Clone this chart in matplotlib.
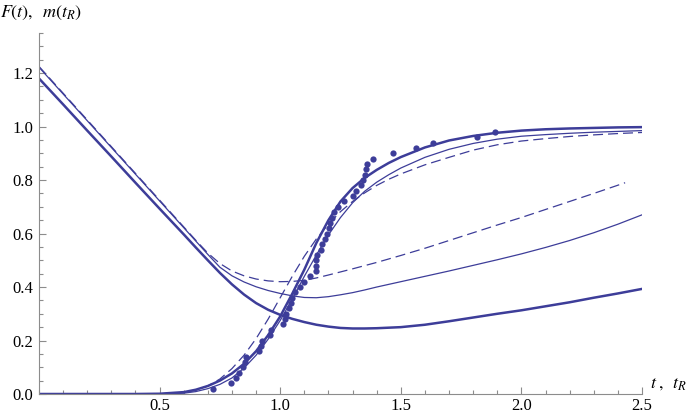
import numpy as np
import matplotlib.pyplot as plt
from matplotlib.ticker import MultipleLocator, FixedLocator

plt.rcParams['font.family'] = ['Liberation Serif', 'DejaVu Serif']
plt.rcParams['mathtext.fontset'] = 'stix'

blue = '#3d3d99'
grey = '#8c8c8c'

# decreasing curves F(t)
t_f = [0.0, 0.1, 0.2, 0.3, 0.4, 0.5, 0.6, 0.65, 0.7, 0.75, 0.8, 0.85, 0.9, 0.95,
       1.0, 1.05, 1.1, 1.15, 1.2, 1.25, 1.3, 1.35, 1.4, 1.45, 1.5, 1.6, 1.7, 1.8,
       1.9, 2.0, 2.1, 2.2, 2.3, 2.4, 2.5]
f_thick = [1.18, 1.083, 0.985, 0.888, 0.79, 0.693, 0.597, 0.548, 0.50, 0.453, 0.41,
           0.372, 0.34, 0.315, 0.296, 0.281, 0.269, 0.259, 0.252, 0.247, 0.245,
           0.245, 0.246, 0.248, 0.25, 0.259, 0.272, 0.286, 0.30, 0.313, 0.328,
           0.343, 0.36, 0.376, 0.393]
f_thin = [1.222, 1.122, 1.022, 0.922, 0.822, 0.722, 0.622, 0.572, 0.522, 0.474,
          0.442, 0.419, 0.401, 0.387, 0.376, 0.367, 0.361, 0.36, 0.364, 0.371,
          0.379, 0.389, 0.40, 0.41, 0.42, 0.44, 0.46, 0.481, 0.502, 0.524, 0.548,
          0.574, 0.603, 0.635, 0.67]
t_fd = [0.0, 0.1, 0.2, 0.3, 0.4, 0.5, 0.6, 0.65, 0.7, 0.75, 0.8, 0.85, 0.9, 0.95,
        1.0, 1.05, 1.1, 1.15, 1.2, 1.3, 1.4, 1.5, 1.6, 1.7, 1.8, 1.9, 2.0, 2.1,
        2.2, 2.3, 2.43]
f_dash = [1.225, 1.125, 1.025, 0.925, 0.825, 0.725, 0.625, 0.575, 0.527, 0.488,
          0.46, 0.442, 0.43, 0.423, 0.42, 0.421, 0.425, 0.434, 0.445, 0.468, 0.492,
          0.518, 0.545, 0.574, 0.603, 0.632, 0.66, 0.69, 0.72, 0.75, 0.79]

# rising curves m(t_R)
t_m = [0.0, 0.4, 0.5, 0.6, 0.65, 0.7, 0.75, 0.8, 0.85, 0.9, 0.95, 1.0, 1.05, 1.1,
       1.15, 1.2, 1.25, 1.3, 1.35, 1.4, 1.45, 1.5, 1.6, 1.7, 1.8, 1.9, 2.0, 2.1,
       2.2, 2.3, 2.4, 2.5]
m_thick = [0.0, 0.0, 0.001, 0.007, 0.016, 0.03, 0.05, 0.077, 0.113, 0.16, 0.22,
           0.29, 0.375, 0.465, 0.565, 0.65, 0.72, 0.77, 0.808, 0.838, 0.864, 0.886,
           0.922, 0.948, 0.965, 0.977, 0.985, 0.99, 0.993, 0.995, 0.997, 0.998]
m_thin = [0.0, 0.0, 0.0, 0.003, 0.009, 0.02, 0.036, 0.06, 0.097, 0.145, 0.205,
          0.275, 0.355, 0.44, 0.52, 0.595, 0.66, 0.715, 0.758, 0.792, 0.82, 0.845,
          0.885, 0.915, 0.937, 0.953, 0.964, 0.97, 0.975, 0.979, 0.982, 0.985]
m_dash = [0.0, 0.0, 0.001, 0.005, 0.014, 0.03, 0.056, 0.095, 0.145, 0.207, 0.28,
          0.36, 0.44, 0.515, 0.58, 0.635, 0.682, 0.72, 0.752, 0.78, 0.803, 0.823,
          0.857, 0.885, 0.912, 0.932, 0.946, 0.955, 0.963, 0.969, 0.974, 0.978]

# measured points
t_pts = [0.722, 0.794, 0.816, 0.829, 0.846, 0.853, 0.86, 0.911, 0.919, 0.926, 0.957,
         0.96, 1.012, 1.019, 1.026, 1.035, 1.043, 1.05, 1.06, 1.081, 1.099, 1.122,
         1.147, 1.147, 1.15, 1.152, 1.171, 1.175, 1.184, 1.194, 1.202, 1.208, 1.216,
         1.222, 1.24, 1.265, 1.30, 1.315, 1.333, 1.343, 1.35, 1.354, 1.36, 1.384,
         1.467, 1.561, 1.633, 1.816, 1.892]
m_pts = [0.02, 0.04, 0.06, 0.08, 0.10, 0.12, 0.14, 0.16, 0.18, 0.20, 0.22, 0.24, 0.26,
         0.28, 0.30, 0.32, 0.34, 0.36, 0.38, 0.40, 0.42, 0.44, 0.46, 0.48, 0.50, 0.52,
         0.54, 0.56, 0.58, 0.60, 0.62, 0.64, 0.66, 0.68, 0.70, 0.72, 0.74, 0.76, 0.78,
         0.80, 0.82, 0.84, 0.86, 0.88, 0.90, 0.92, 0.94, 0.96, 0.98]

fig = plt.figure(figsize=(6.93, 4.16), dpi=100)
ax = fig.add_axes([39/693, 22/416, 603/693, 361/416])

ax.plot(t_f, f_thick, color=blue, lw=1.8)
ax.plot(t_f, f_thin, color=blue, lw=0.9)
ax.plot(t_fd, f_dash, color=blue, lw=0.9, dashes=(8, 4))
ax.plot(t_m, m_thick, color=blue, lw=1.8)
ax.plot(t_m, m_thin, color=blue, lw=0.9)
ax.plot(t_m, m_dash, color=blue, lw=0.9, dashes=(8, 4))
ax.plot(t_pts, m_pts, 'o', color=blue, ms=4.5, mec='none')

ax.set_xlim(0, 2.5)
ax.set_ylim(0, 1.35)
ax.spines['top'].set_visible(False)
ax.spines['right'].set_visible(False)
for s in ['left', 'bottom']:
  ax.spines[s].set_color(grey)
  ax.spines[s].set_linewidth(0.8)

ax.xaxis.set_major_locator(FixedLocator([0.5, 1.0, 1.5, 2.0, 2.5]))
ax.xaxis.set_minor_locator(MultipleLocator(0.1))
ax.yaxis.set_major_locator(FixedLocator([0.0, 0.2, 0.4, 0.6, 0.8, 1.0, 1.2]))
ax.yaxis.set_minor_locator(MultipleLocator(0.05))
ax.set_xticklabels(['0.5', '1.0', '1.5', '2.0', '2.5'])
ax.set_yticklabels(['0.0', '0.2', '0.4', '0.6', '0.8', '1.0', '1.2'])
ax.tick_params(which='both', direction='in', color=grey, width=0.8, labelsize=12)
ax.tick_params(which='major', length=5)
ax.tick_params(which='minor', length=3)
ax.tick_params(axis='x', pad=3)
ax.tick_params(axis='y', pad=4)

fig.text(0.0, 0.96, r'$F(t),\;\; m(t_R)$', fontsize=13, va='baseline', ha='left')
fig.text(650/693, 28/416, r'$t\;,\;\; t_R$', fontsize=13, va='baseline', ha='left')

fig.savefig('out.png', dpi=100)
